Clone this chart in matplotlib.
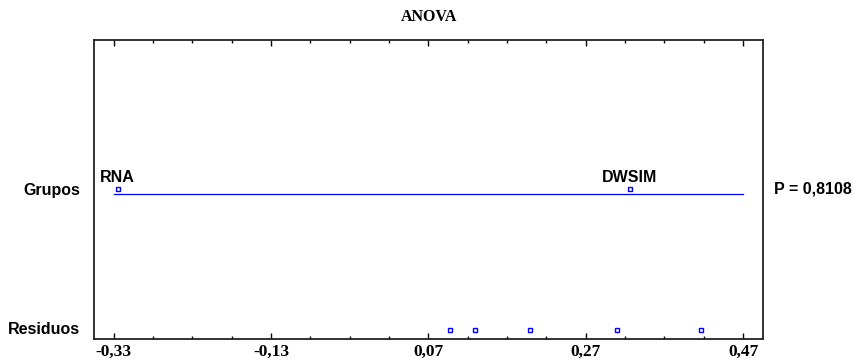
import matplotlib
matplotlib.use("Agg")
import matplotlib.pyplot as plt
from matplotlib.ticker import FixedLocator

# values
group_names = ["RNA", "DWSIM"]
group_x = [-0.325, 0.326]
resid_x = [0.097, 0.129, 0.199, 0.310, 0.417]
line_span = [-0.33, 0.47]
xticks = [-0.33, -0.13, 0.07, 0.27, 0.47]
xticklabels = ["-0,33", "-0,13", "0,07", "0,27", "0,47"]
row_labels = ["Grupos", "Residuos"]
p_text = "P = 0,8108"

y_group = 0.50
y_line = 0.486
y_resid = 0.029

sans = "Liberation Sans"
serif = "Liberation Serif"
blue = "#0000ff"

fig = plt.figure(figsize=(8.56, 3.64), dpi=100)
ax = fig.add_axes([94 / 856, 25.3 / 364, 668.7 / 856, 298.7 / 364])

ax.plot(line_span, [y_line, y_line], color=blue, lw=0.9)
ax.plot(group_x, [y_group] * len(group_x), ls="none", marker="s", ms=3.2,
        mfc="none", mec=blue, mew=1.0)
ax.plot(resid_x, [y_resid] * len(resid_x), ls="none", marker="s", ms=3.2,
        mfc="none", mec=blue, mew=1.0)

for name, x in zip(group_names, group_x):
    ax.annotate(name, (x, y_group), xytext=(0, 3), textcoords="offset points",
                ha="center", va="bottom", fontfamily=sans, fontweight="bold",
                fontsize=11.5)

ax.annotate(p_text, (1.0, 0.5), xycoords="axes fraction", xytext=(8, 0),
            textcoords="offset points", ha="left", va="center",
            fontfamily=sans, fontweight="bold", fontsize=11.5)

ax.set_xlim(-0.355, 0.495)
ax.set_ylim(0, 1)

ax.xaxis.set_major_locator(FixedLocator(xticks))
ax.set_xticklabels(xticklabels, fontfamily=serif, fontweight="bold", fontsize=12.5)
ax.xaxis.set_minor_locator(FixedLocator([-0.33 + 0.05 * i for i in range(17)]))
ax.tick_params(axis="x", which="major", direction="in", top=True, length=4.5,
               width=1.0, pad=4)
ax.tick_params(axis="x", which="minor", direction="in", top=True, length=2.5,
               width=1.0)

ax.set_yticks([0.501, 0.036])
ax.set_yticklabels(row_labels, fontfamily=sans, fontweight="bold", fontsize=11.5)
ax.tick_params(axis="y", length=0, pad=10)

for s in ax.spines.values():
    s.set_linewidth(1.3)
    s.set_color("#222222")

fig.text(429.5 / 856, 1 - 17 / 364, "ANOVA", ha="center", va="center",
         fontfamily=serif, fontweight="bold", fontsize=11.5)

fig.savefig("out.png", dpi=100)
